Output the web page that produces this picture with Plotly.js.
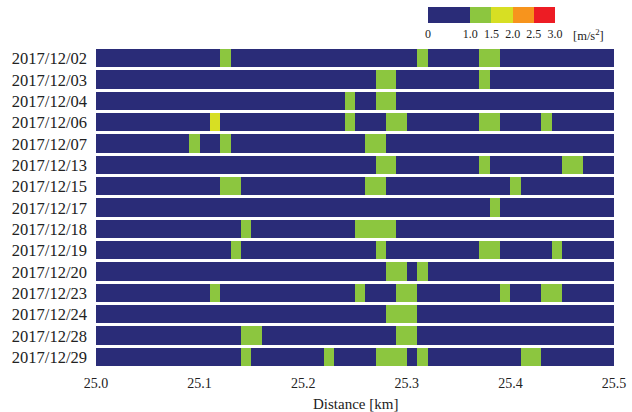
<!DOCTYPE html>
<html>
<head>
<meta charset="utf-8">
<script src="https://cdn.plot.ly/plotly-3.0.1.min.js"></script>
<style>html,body{margin:0;padding:0;background:#fff;}#chart{width:632px;height:412px;}</style>
</head>
<body>
<div id="chart"></div>
<script>
// Dates (rows, top to bottom)
const dates = ["2017/12/02","2017/12/03","2017/12/04","2017/12/06","2017/12/07","2017/12/13","2017/12/15","2017/12/17","2017/12/18","2017/12/19","2017/12/20","2017/12/23","2017/12/24","2017/12/28","2017/12/29"];
// Acceleration per 0.01 km cell from 25.00 to 25.50 km (50 cells per row), m/s^2 (estimated level)
const accel_1202 = [0.5,0.5,0.5,0.5,0.5,0.5,0.5,0.5,0.5,0.5, 0.5,0.5,1.2,0.5,0.5,0.5,0.5,0.5,0.5,0.5, 0.5,0.5,0.5,0.5,0.5,0.5,0.5,0.5,0.5,0.5, 0.5,1.2,0.5,0.5,0.5,0.5,0.5,1.2,1.2,0.5, 0.5,0.5,0.5,0.5,0.5,0.5,0.5,0.5,0.5,0.5];
const accel_1203 = [0.5,0.5,0.5,0.5,0.5,0.5,0.5,0.5,0.5,0.5, 0.5,0.5,0.5,0.5,0.5,0.5,0.5,0.5,0.5,0.5, 0.5,0.5,0.5,0.5,0.5,0.5,0.5,1.2,1.2,0.5, 0.5,0.5,0.5,0.5,0.5,0.5,0.5,1.2,0.5,0.5, 0.5,0.5,0.5,0.5,0.5,0.5,0.5,0.5,0.5,0.5];
const accel_1204 = [0.5,0.5,0.5,0.5,0.5,0.5,0.5,0.5,0.5,0.5, 0.5,0.5,0.5,0.5,0.5,0.5,0.5,0.5,0.5,0.5, 0.5,0.5,0.5,0.5,1.2,0.5,0.5,1.2,1.2,0.5, 0.5,0.5,0.5,0.5,0.5,0.5,0.5,0.5,0.5,0.5, 0.5,0.5,0.5,0.5,0.5,0.5,0.5,0.5,0.5,0.5];
const accel_1206 = [0.5,0.5,0.5,0.5,0.5,0.5,0.5,0.5,0.5,0.5, 0.5,1.7,0.5,0.5,0.5,0.5,0.5,0.5,0.5,0.5, 0.5,0.5,0.5,0.5,1.2,0.5,0.5,0.5,1.2,1.2, 0.5,0.5,0.5,0.5,0.5,0.5,0.5,1.2,1.2,0.5, 0.5,0.5,0.5,1.2,0.5,0.5,0.5,0.5,0.5,0.5];
const accel_1207 = [0.5,0.5,0.5,0.5,0.5,0.5,0.5,0.5,0.5,1.2, 0.5,0.5,1.2,0.5,0.5,0.5,0.5,0.5,0.5,0.5, 0.5,0.5,0.5,0.5,0.5,0.5,1.2,1.2,0.5,0.5, 0.5,0.5,0.5,0.5,0.5,0.5,0.5,0.5,0.5,0.5, 0.5,0.5,0.5,0.5,0.5,0.5,0.5,0.5,0.5,0.5];
const accel_1213 = [0.5,0.5,0.5,0.5,0.5,0.5,0.5,0.5,0.5,0.5, 0.5,0.5,0.5,0.5,0.5,0.5,0.5,0.5,0.5,0.5, 0.5,0.5,0.5,0.5,0.5,0.5,0.5,1.2,1.2,0.5, 0.5,0.5,0.5,0.5,0.5,0.5,0.5,1.2,0.5,0.5, 0.5,0.5,0.5,0.5,0.5,1.2,1.2,0.5,0.5,0.5];
const accel_1215 = [0.5,0.5,0.5,0.5,0.5,0.5,0.5,0.5,0.5,0.5, 0.5,0.5,1.2,1.2,0.5,0.5,0.5,0.5,0.5,0.5, 0.5,0.5,0.5,0.5,0.5,0.5,1.2,1.2,0.5,0.5, 0.5,0.5,0.5,0.5,0.5,0.5,0.5,0.5,0.5,0.5, 1.2,0.5,0.5,0.5,0.5,0.5,0.5,0.5,0.5,0.5];
const accel_1217 = [0.5,0.5,0.5,0.5,0.5,0.5,0.5,0.5,0.5,0.5, 0.5,0.5,0.5,0.5,0.5,0.5,0.5,0.5,0.5,0.5, 0.5,0.5,0.5,0.5,0.5,0.5,0.5,0.5,0.5,0.5, 0.5,0.5,0.5,0.5,0.5,0.5,0.5,0.5,1.2,0.5, 0.5,0.5,0.5,0.5,0.5,0.5,0.5,0.5,0.5,0.5];
const accel_1218 = [0.5,0.5,0.5,0.5,0.5,0.5,0.5,0.5,0.5,0.5, 0.5,0.5,0.5,0.5,1.2,0.5,0.5,0.5,0.5,0.5, 0.5,0.5,0.5,0.5,0.5,1.2,1.2,1.2,1.2,0.5, 0.5,0.5,0.5,0.5,0.5,0.5,0.5,0.5,0.5,0.5, 0.5,0.5,0.5,0.5,0.5,0.5,0.5,0.5,0.5,0.5];
const accel_1219 = [0.5,0.5,0.5,0.5,0.5,0.5,0.5,0.5,0.5,0.5, 0.5,0.5,0.5,1.2,0.5,0.5,0.5,0.5,0.5,0.5, 0.5,0.5,0.5,0.5,0.5,0.5,0.5,1.2,0.5,0.5, 0.5,0.5,0.5,0.5,0.5,0.5,0.5,1.2,1.2,0.5, 0.5,0.5,0.5,0.5,1.2,0.5,0.5,0.5,0.5,0.5];
const accel_1220 = [0.5,0.5,0.5,0.5,0.5,0.5,0.5,0.5,0.5,0.5, 0.5,0.5,0.5,0.5,0.5,0.5,0.5,0.5,0.5,0.5, 0.5,0.5,0.5,0.5,0.5,0.5,0.5,0.5,1.2,1.2, 0.5,1.2,0.5,0.5,0.5,0.5,0.5,0.5,0.5,0.5, 0.5,0.5,0.5,0.5,0.5,0.5,0.5,0.5,0.5,0.5];
const accel_1223 = [0.5,0.5,0.5,0.5,0.5,0.5,0.5,0.5,0.5,0.5, 0.5,1.2,0.5,0.5,0.5,0.5,0.5,0.5,0.5,0.5, 0.5,0.5,0.5,0.5,0.5,1.2,0.5,0.5,0.5,1.2, 1.2,0.5,0.5,0.5,0.5,0.5,0.5,0.5,0.5,1.2, 0.5,0.5,0.5,1.2,1.2,0.5,0.5,0.5,0.5,0.5];
const accel_1224 = [0.5,0.5,0.5,0.5,0.5,0.5,0.5,0.5,0.5,0.5, 0.5,0.5,0.5,0.5,0.5,0.5,0.5,0.5,0.5,0.5, 0.5,0.5,0.5,0.5,0.5,0.5,0.5,0.5,1.2,1.2, 1.2,0.5,0.5,0.5,0.5,0.5,0.5,0.5,0.5,0.5, 0.5,0.5,0.5,0.5,0.5,0.5,0.5,0.5,0.5,0.5];
const accel_1228 = [0.5,0.5,0.5,0.5,0.5,0.5,0.5,0.5,0.5,0.5, 0.5,0.5,0.5,0.5,1.2,1.2,0.5,0.5,0.5,0.5, 0.5,0.5,0.5,0.5,0.5,0.5,0.5,0.5,0.5,1.2, 1.2,0.5,0.5,0.5,0.5,0.5,0.5,0.5,0.5,0.5, 0.5,0.5,0.5,0.5,0.5,0.5,0.5,0.5,0.5,0.5];
const accel_1229 = [0.5,0.5,0.5,0.5,0.5,0.5,0.5,0.5,0.5,0.5, 0.5,0.5,0.5,0.5,1.2,0.5,0.5,0.5,0.5,0.5, 0.5,0.5,1.2,0.5,0.5,0.5,0.5,1.2,1.2,1.2, 0.5,1.2,0.5,0.5,0.5,0.5,0.5,0.5,0.5,0.5, 0.5,1.2,1.2,0.5,0.5,0.5,0.5,0.5,0.5,0.5];
// Colour bands
const bandEdges = [0, 1.0, 1.5, 2.0, 2.5, 3.0];
const bandColors = ["#2a2c78", "#8cc63f", "#d7df23", "#f7941d", "#ed1c24"];
const cbTickText = ["0", "1.0", "1.5", "2.0", "2.5", "3.0"];
const unitLabel = "[m/s<sup>2</sup>]";
const xTitle = "Distance [km]";
const xTickVals = [25.0, 25.1, 25.2, 25.3, 25.4, 25.5];
const xTickText = ["25.0", "25.1", "25.2", "25.3", "25.4", "25.5"];

const z = [accel_1202, accel_1203, accel_1204, accel_1206, accel_1207, accel_1213, accel_1215, accel_1217, accel_1218, accel_1219, accel_1220, accel_1223, accel_1224, accel_1228, accel_1229];

const zmin = bandEdges[0], zmax = bandEdges[bandEdges.length - 1];
const colorscale = [];
for (let i = 0; i < bandColors.length; i++) {
  colorscale.push([(bandEdges[i] - zmin) / (zmax - zmin), bandColors[i]]);
  colorscale.push([(bandEdges[i + 1] - zmin) / (zmax - zmin), bandColors[i]]);
}

const serif = "Liberation Serif, Times New Roman, serif";
const trace = {
  type: "heatmap",
  z: z,
  y: dates,
  x0: 25.005,
  dx: 0.01,
  zmin: zmin,
  zmax: zmax,
  colorscale: colorscale,
  ygap: 3,
  colorbar: {
    orientation: "h",
    thickness: 16,
    len: 127,
    lenmode: "pixels",
    x: 0.641,
    xanchor: "left",
    y: 1.035,
    yanchor: "bottom",
    ypad: 0,
    xpad: 0,
    outlinewidth: 0,
    tickmode: "array",
    tickvals: bandEdges,
    ticktext: cbTickText,
    tickangle: 0,
    ticks: "",
    tickfont: {family: serif, size: 12, color: "#222"}
  }
};

const layout = {
  width: 632,
  height: 412,
  margin: {l: 96, r: 18, t: 48, b: 44, autoexpand: false},
  paper_bgcolor: "#fff",
  plot_bgcolor: "#fff",
  font: {family: serif, size: 13, color: "#222"},
  xaxis: {
    range: [25.0, 25.5],
    tickvals: xTickVals,
    ticktext: xTickText,
    ticks: "",
    showgrid: false,
    zeroline: false,
    showline: false,
    automargin: false,
    ticklabelstandoff: 5,
    tickfont: {family: serif, size: 14, color: "#222"}
  },
  yaxis: {
    type: "category",
    autorange: "reversed",
    ticks: "",
    showgrid: false,
    zeroline: false,
    showline: false,
    automargin: false,
    ticklabelstandoff: 8,
    tickfont: {family: serif, size: 16.5, color: "#222"}
  },
  annotations: [
    {text: unitLabel, xref: "paper", yref: "paper", x: 0.917, y: 1.0, xanchor: "left", yanchor: "bottom",
     yshift: 3, showarrow: false, font: {family: serif, size: 12.5, color: "#222"}},
    {text: xTitle, xref: "paper", yref: "paper", x: 0.5, y: 0, xanchor: "center", yanchor: "middle",
     yshift: -36, showarrow: false, font: {family: serif, size: 15, color: "#222"}}
  ]
};

Plotly.newPlot("chart", [trace], layout, {displayModeBar: false, staticPlot: true});
</script>
</body>
</html>
